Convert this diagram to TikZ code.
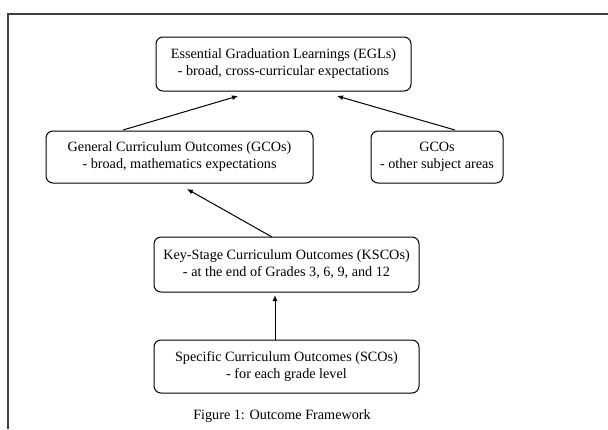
\documentclass[tikz,border=0pt]{standalone}
\usepackage{fontspec}
\setmainfont{Liberation Serif}
\usetikzlibrary{arrows.meta}
\begin{document}
\begin{tikzpicture}[x=1pt,y=-1pt,
  box/.style={draw, rounded corners=7pt, line width=1pt, align=center, inner sep=0pt, font=\fontsize{14.2}{17}\selectfont},
  conn/.style={line width=1pt, -{Latex[length=6pt,width=5pt]}},
  frame/.style={line width=1.6pt, draw=black!75}]
\useasboundingbox (0,0) rectangle (608,429);
\draw[frame] (608,14) -- (8,14) -- (8,429);
\node[box, minimum width=255pt, minimum height=54pt] (egl) at (283.5,64) {Essential Graduation Learnings (EGLs)\\- broad, cross-curricular expectations};
\node[box, minimum width=267pt, minimum height=52pt] (gco) at (179.5,157) {General Curriculum Outcomes (GCOs)\\- broad, mathematics expectations};
\node[box, minimum width=132pt, minimum height=52pt] (oth) at (437,157) {GCOs\\- other subject areas};
\node[box, minimum width=265pt, minimum height=55pt] (ksco) at (286.5,264.5) {Key-Stage Curriculum Outcomes (KSCOs)\\- at the end of Grades 3, 6, 9, and 12};
\node[box, minimum width=265pt, minimum height=53pt] (sco) at (286.5,366.5) {Specific Curriculum Outcomes (SCOs)\\- for each grade level};
\node[font=\fontsize{14.2}{17}\selectfont, inner sep=0pt] (cap) at (282,416) {Figure 1: Outcome Framework};
\coordinate (g1) at (123,130);
\coordinate (g2) at (238,96);
\coordinate (o1) at (455,130);
\coordinate (o2) at (337,96);
\coordinate (k1) at (272,237);
\coordinate (k2) at (187,189);
\coordinate (s1) at (275,340);
\coordinate (s2) at (275,295);
\draw[conn] (g1) -- (g2);
\draw[conn] (o1) -- (o2);
\draw[conn] (k1) -- (k2);
\draw[conn] (s1) -- (s2);
\end{tikzpicture}
\end{document}
